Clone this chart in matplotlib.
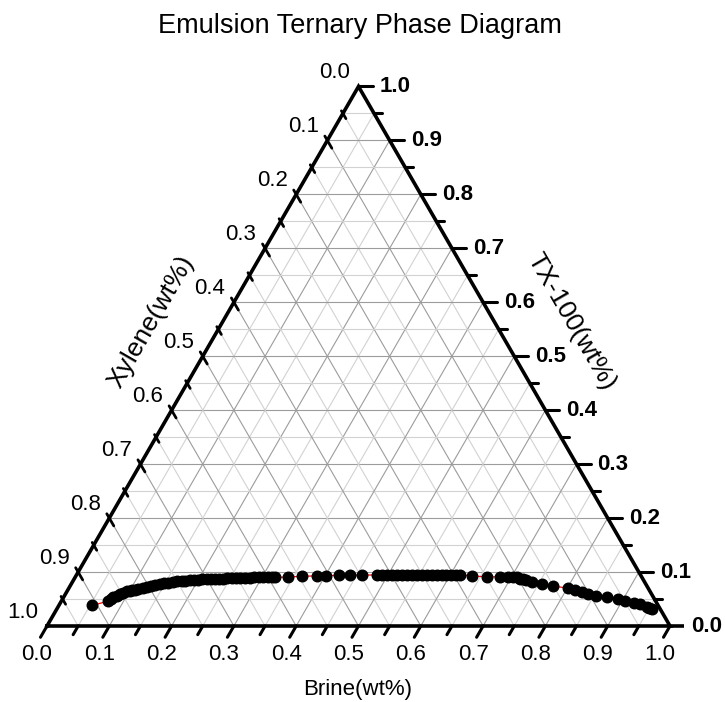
import numpy as np
import matplotlib
matplotlib.use("Agg")
import matplotlib.pyplot as plt

plt.rcParams['font.family'] = ['Liberation Sans', 'DejaVu Sans']

title = "Emulsion Ternary Phase Diagram"
label_brine = "Brine(wt%)"
label_xylene = "Xylene(wt%)"
label_tx = "TX-100(wt%)"

tick_values = [round(0.1 * k, 1) for k in range(11)]
tick_labels = [f"{v:.1f}" for v in tick_values]

# Phase boundary composition (mass fractions); xylene = 1 - brine - tx
brine = [0.053, 0.075, 0.078, 0.080, 0.084, 0.088, 0.092, 0.096, 0.100, 0.104,
         0.108, 0.112, 0.118, 0.124, 0.130, 0.136, 0.143, 0.149, 0.155, 0.161,
         0.167, 0.174, 0.180, 0.187, 0.193, 0.200, 0.206, 0.213, 0.219, 0.225,
         0.232, 0.238, 0.245, 0.252, 0.259, 0.266, 0.273, 0.281, 0.288, 0.295,
         0.302, 0.309, 0.316, 0.321, 0.342, 0.363, 0.387, 0.402, 0.421, 0.439,
         0.458, 0.482, 0.490, 0.498, 0.506, 0.514, 0.522, 0.530, 0.538, 0.546,
         0.554, 0.562, 0.570, 0.578, 0.586, 0.594, 0.602, 0.610, 0.616, 0.635,
         0.660, 0.681, 0.695, 0.703, 0.709, 0.715, 0.721, 0.727, 0.737, 0.755,
         0.776, 0.802, 0.814, 0.827, 0.839, 0.854, 0.872, 0.892, 0.904, 0.920,
         0.932, 0.945, 0.950, 0.955]
tx100 = [0.038, 0.046, 0.050, 0.053, 0.056, 0.059, 0.061, 0.064, 0.065, 0.066,
         0.067, 0.069, 0.071, 0.073, 0.074, 0.076, 0.077, 0.079, 0.080, 0.082,
         0.083, 0.084, 0.084, 0.085, 0.086, 0.086, 0.087, 0.087, 0.087, 0.088,
         0.088, 0.088, 0.089, 0.089, 0.089, 0.089, 0.089, 0.089, 0.090, 0.090,
         0.090, 0.090, 0.090, 0.090, 0.091, 0.092, 0.093, 0.093, 0.094, 0.094,
         0.0945, 0.0945, 0.0945, 0.0945, 0.0945, 0.0945, 0.0945, 0.0945, 0.0945, 0.0945,
         0.0945, 0.0945, 0.0945, 0.0945, 0.0945, 0.0945, 0.0945, 0.0945, 0.0945, 0.093,
         0.091, 0.091, 0.091, 0.091, 0.090, 0.088, 0.087, 0.085, 0.082, 0.078,
         0.074, 0.070, 0.067, 0.063, 0.059, 0.056, 0.053, 0.050, 0.047, 0.043,
         0.040, 0.036, 0.034, 0.032]

H = np.sqrt(3) / 2


def tern(b, t):
    b = np.asarray(b, float)
    t = np.asarray(t, float)
    return b + t / 2, t * H


W, Hpx = 725, 702
fig = plt.figure(figsize=(W / 100, Hpx / 100), dpi=100)
ax = fig.add_axes([0, 0, 1, 1])
scale = 623.0
x0px, y0px = 47.0, 702 - 626.0
ax.set_xlim(-x0px / scale, (W - x0px) / scale)
ax.set_ylim(-y0px / scale, (Hpx - y0px) / scale)
ax.axis('off')

px = 1.0 / scale  # one pixel in data units

# grid
for k in range(1, 20):
    v = k / 20
    major = (k % 2 == 0)
    col = '#9c9c9c' if major else '#d2d2d2'
    lw = 0.8
    segs = [((0, v), (1 - v, v)),        # constant TX-100
            ((v, 0), (v, 1 - v)),        # constant brine
            ((1 - v, 0), (0, 1 - v))]    # constant xylene
    for (b1, t1), (b2, t2) in segs:
        xa, ya = tern(b1, t1)
        xb, yb = tern(b2, t2)
        ax.plot([xa, xb], [ya, yb], color=col, lw=lw, zorder=1)

# triangle edges
vx, vy = tern([0, 1, 0, 0], [0, 0, 1, 0])
ax.plot(vx, vy, color='black', lw=2.6, zorder=3, solid_joinstyle='miter')
# extended base line under the right-hand 0.0 tick
ax.plot([1, 1 + 14 * px], [0, 0], color='black', lw=2.6, zorder=3, solid_capstyle='butt')

dl = np.array([-0.5, -H])   # brine tick direction
dr = np.array([1.0, 0.0])   # tx tick direction
dx_in = np.array([0.5, -H])  # xylene line direction into triangle

for k in range(21):
    v = k / 20
    major = (k % 2 == 0)
    # bottom: brine
    p = np.array(tern(v, 0))
    L = 13 if major else 10
    q = p + dl * L * px
    ax.plot([p[0], q[0]], [p[1], q[1]], color='black', lw=2.2, zorder=3, solid_capstyle='round')
    # right: TX-100
    p = np.array(tern(1 - v, v))
    L = 14 if major else 8
    if k > 0:
        q = p + dr * L * px
        ax.plot([p[0], q[0]], [p[1], q[1]], color='black', lw=2.2, zorder=3, solid_capstyle='round')
    # left: xylene
    p = np.array(tern(0, 1 - v))
    a, bb = (5, 9) if major else (3, 6)
    q1 = p - dx_in * a * px
    q2 = p + dx_in * bb * px
    if 0 < k < 20:
        ax.plot([q1[0], q2[0]], [q1[1], q2[1]], color='black', lw=2.0, zorder=3, solid_capstyle='round')

fs_tick = 16
for v, lab in zip(tick_values, tick_labels):
    # brine
    p = tern(v, 0)
    ax.annotate(lab, p, xytext=(-10, -29), textcoords='offset pixels',
                ha='center', va='center', fontsize=fs_tick)
    # tx-100
    p = tern(1 - v, v)
    ax.annotate(lab, p, xytext=(21, 0), textcoords='offset pixels',
                ha='left', va='center', fontsize=fs_tick, fontweight='bold')
    # xylene
    p = tern(0, 1 - v)
    ax.annotate(lab, p, xytext=(-24, 13.5), textcoords='offset pixels',
                ha='center', va='center', fontsize=fs_tick)

# data
dx_, dy_ = tern(brine, tx100)
ax.plot(dx_, dy_, color='red', lw=0.9, zorder=4)
ax.plot(dx_, dy_, linestyle='none', marker='o', ms=7.6, color='black',
        markeredgecolor='black', zorder=5)

# titles
fig.text(360 / W, 1 - 26 / Hpx, title, ha='center', va='center', fontsize=19.5)
fig.text(358 / W, 1 - 690 / Hpx, label_brine, ha='center', va='center', fontsize=16)
fig.text(151 / W, 1 - 322 / Hpx, label_xylene, ha='center', va='center', fontsize=19,
         rotation=60, rotation_mode='anchor')
fig.text(571 / W, 1 - 322 / Hpx, label_tx, ha='center', va='center', fontsize=19,
         rotation=-60, rotation_mode='anchor')

fig.savefig('out.png', dpi=100)
